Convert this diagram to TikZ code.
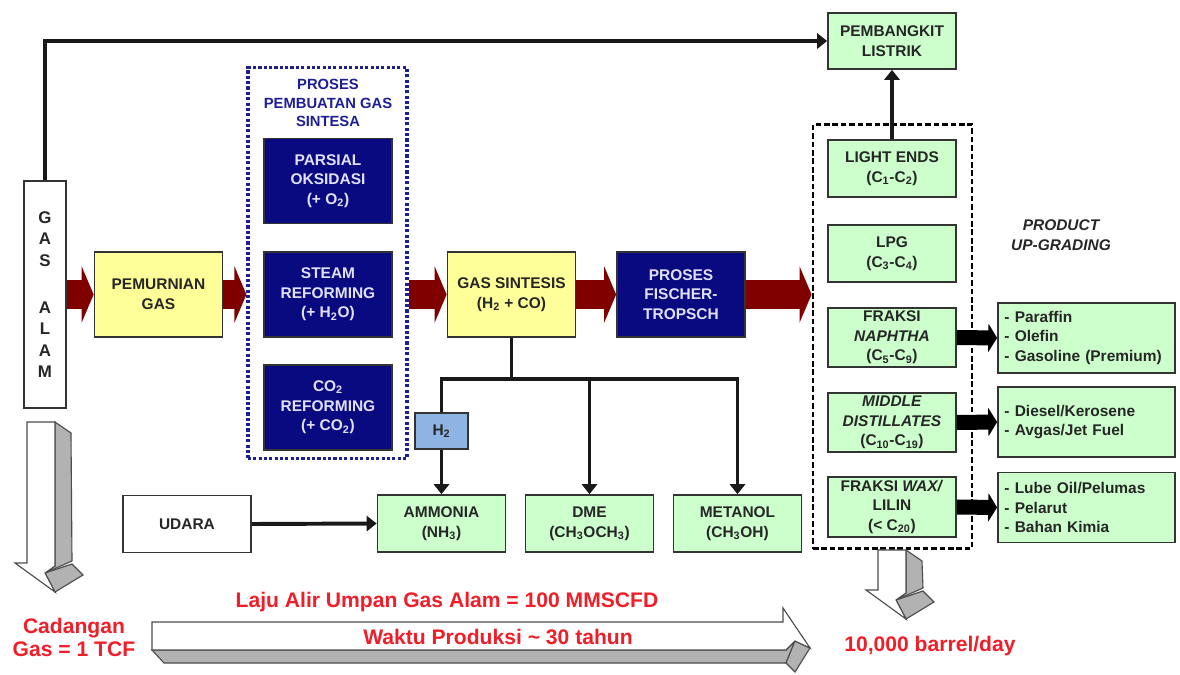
\documentclass[tikz,border=0pt]{standalone}
\usepackage{fontspec}
\setmainfont{Liberation Sans}
\usetikzlibrary{arrows.meta,positioning}

\definecolor{gelb}{RGB}{255,255,153}
\definecolor{dunkelblau}{RGB}{10,10,128}
\definecolor{hellgruen}{RGB}{204,255,204}
\definecolor{hellblau}{RGB}{141,180,226}
\definecolor{weinrot}{RGB}{128,0,0}
\definecolor{signalrot}{RGB}{240,30,40}
\definecolor{rahmenblau}{RGB}{30,30,150}

% 3D-Hohlpfeil nach unten: #1 x links, #2 y oben, #3 y Spitzenansatz
\newcommand{\hohlpfeilrunter}[3]{%
	\filldraw [ seite ] (#1+28,#2) -- (#1+44,#2+11) -- (#1+45,#3-2) -- (#1+18,#3+10) -- (#1+28,#3+3) -- cycle;
	\filldraw [ seite ] (#1+18,#3+10) -- (#1+45,#3+1) -- (#1+56,#3+12) -- (#1+28,#3+29) -- cycle;
	\filldraw [ front ] (#1,#2) -- (#1+28,#2) -- (#1+28,#3+3) -- (#1+18,#3+10) -- (#1+28,#3+29) -- (#1-12,#3) -- (#1,#3) -- cycle;
}

\begin{document}
\begin{tikzpicture}[
		x=0.025cm, y=-0.025cm,
		every node/.style={font=\fontsize{11pt}{14pt}\selectfont\bfseries, align=center, text=black!85},
		kasten/.style={draw=black!80, line width=1.2pt, inner sep=2pt},
		gelbkasten/.style={kasten, fill=gelb, minimum width=3.2cm, minimum height=2.125cm},
		blaukasten/.style={kasten, fill=dunkelblau, text={rgb,255:red,225;green,225;blue,255}, minimum width=3.2cm, minimum height=2.125cm},
		gruenkasten/.style={kasten, fill=hellgruen, minimum width=3.2cm, minimum height=1.425cm},
		listkasten/.style={kasten, fill=hellgruen, minimum width=4.425cm, minimum height=1.75cm, text width=4.1cm, inner sep=0.15cm, align=left},
		rottext/.style={font=\fontsize{15pt}{16.4pt}\selectfont\bfseries, text=signalrot},
		roterpfeil/.style={draw=weinrot, line width=0.7cm, -{Triangle[length=0.3cm, width=1.4cm]}},
		schwarzpfeil/.style={draw=black, line width=0.375cm, -{Triangle[length=0.22cm, width=0.7cm]}},
		duennlinie/.style={draw=black!90, line width=2.8pt},
		duennpfeil/.style={duennlinie, -{Triangle[length=0.25cm, width=0.38cm]}},
		seite/.style={fill=gray!60, draw=black!70, line width=0.8pt},
		front/.style={fill=white, draw=black!70, line width=0.8pt}
		]
		\useasboundingbox (0,0) rectangle (1180,675);
		
		% Rahmen
		\node [ draw=rahmenblau, line width=2.2pt, dash pattern=on 2.2pt off 1.6pt, minimum width=3.975cm, minimum height=9.75cm ] (synbox) at (327.5,263) {};
		\node [ draw=black, line width=2pt, dash pattern=on 4pt off 2pt, minimum width=3.975cm, minimum height=10.6cm ] (upbox) at (892.5,336.5) {};
		\node [ font=\fontsize{10.5pt}{13pt}\selectfont\bfseries, text=rahmenblau ] (syntitel) at (328,103) {PROSES\\PEMBUATAN GAS\\SINTESA};
		
		\node [ kasten, fill=white, minimum width=1.05cm, minimum height=5.675cm, font=\fontsize{12pt}{15.3pt}\selectfont\bfseries ] (gasalam) at (45,294.5) {G\\A\\S\\[18pt]A\\L\\A\\M};
		\node [ gelbkasten ] (pemurnian) at (158.5,294.5) {PEMURNIAN\\GAS};
		\node [ blaukasten ] (parsial) at (328,181) {PARSIAL\\OKSIDASI\\(+ O\textsubscript{2})};
		\node [ blaukasten ] (steam) at (328,294.5) {STEAM\\REFORMING\\(+ H\textsubscript{2}O)};
		\node [ blaukasten ] (coref) at (328,407.5) {CO\textsubscript{2}\\REFORMING\\(+ CO\textsubscript{2})};
		\node [ gelbkasten ] (gassintesis) at (511.5,294.5) {GAS SINTESIS\\(H\textsubscript{2} + CO)};
		\node [ blaukasten ] (ft) at (681,294.5) {PROSES\\FISCHER-\\TROPSCH};
		
		\node [ gruenkasten, minimum height=1.4cm ] (pembangkit) at (892,41) {PEMBANGKIT\\LISTRIK};
		\node [ gruenkasten ] (lightends) at (892,168.5) {LIGHT ENDS\\(C\textsubscript{1}-C\textsubscript{2})};
		\node [ gruenkasten ] (lpg) at (892,253.5) {LPG\\(C\textsubscript{3}-C\textsubscript{4})};
		\node [ gruenkasten ] (naphtha) at (892,337.5) {FRAKSI\\\textit{NAPHTHA}\\(C\textsubscript{5}-C\textsubscript{9})};
		\node [ gruenkasten ] (middle) at (892,422.5) {\textit{MIDDLE}\\\textit{DISTILLATES}\\(C\textsubscript{10}-C\textsubscript{19})};
		\node [ gruenkasten ] (wax) at (892,507) {FRAKSI \textit{WAX/}\\LILIN\\(< C\textsubscript{20})};
		\node [ font=\fontsize{11pt}{14pt}\selectfont\bfseries\itshape ] (upgrading) at (1061,235) {PRODUCT\\UP-GRADING};
		
		\node [ listkasten ] (listea) at (1086.5,338) {- Paraffin\\- Olefin\\- Gasoline (Premium)};
		\node [ listkasten ] (listeb) at (1086.5,422) {- Diesel/Kerosene\\- Avgas/Jet Fuel};
		\node [ listkasten ] (listec) at (1086.5,507.5) {- Lube Oil/Pelumas\\- Pelarut\\- Bahan Kimia};
		
		\node [ kasten, fill=hellblau, minimum width=1.325cm, minimum height=0.9cm ] (h2) at (441.5,431) {H\textsubscript{2}};
		\node [ kasten, fill=white, minimum width=3.2cm, minimum height=1.425cm ] (udara) at (187,524) {UDARA};
		\node [ gruenkasten ] (ammonia) at (441.5,523.5) {AMMONIA\\(NH\textsubscript{3})};
		\node [ gruenkasten ] (dme) at (589.5,523.5) {DME\\(CH\textsubscript{3}OCH\textsubscript{3})};
		\node [ gruenkasten ] (metanol) at (737.5,523.5) {METANOL\\(CH\textsubscript{3}OH)};
		
		% Hauptstrom
		\draw [ roterpfeil ] (gasalam.east) -- (pemurnian.west);
		\draw [ roterpfeil ] (pemurnian.east) -- (pemurnian.east -| synbox.west);
		\draw [ roterpfeil ] (synbox.east |- gassintesis.west) -- (gassintesis.west);
		\draw [ roterpfeil ] (gassintesis.east) -- (ft.west);
		\draw [ roterpfeil ] (ft.east) -- (ft.east -| upbox.west);
		
		\draw [ duennpfeil ] (gasalam.north) |- (pembangkit.west);
		\draw [ duennpfeil, line width=3.5pt ] (lightends.north) -- (pembangkit.south);
		\draw [ schwarzpfeil ] (naphtha.east) -- (listea.west);
		\draw [ schwarzpfeil ] (middle.east) -- (listeb.west);
		\draw [ schwarzpfeil ] (wax.east) -- (listec.west);
		
		\draw [ duennlinie ] (gassintesis.south) -- ++(0,41) coordinate (verteiler);
		\draw [ duennlinie ] (verteiler) -| (h2.north);
		\draw [ duennpfeil ] (h2.south) -- (ammonia.north);
		\draw [ duennpfeil ] (verteiler) -| (dme.north);
		\draw [ duennpfeil ] (verteiler) -| (metanol.north);
		\draw [ duennpfeil ] (udara.east) -- (ammonia.west);
		
		% 3D-Pfeile
		\hohlpfeilrunter{27}{422}{563}
		\hohlpfeilrunter{878}{550}{590}
		\filldraw [ seite ] (152,650) -- (164,663) -- (786,663) -- (795,641) -- (786,650) -- cycle;
		\filldraw [ seite ] (795,641) -- (786,663) -- (795,672) -- (810,648) -- cycle;
		\filldraw [ front ] (152,622) -- (783,622) -- (783,608) -- (810,648) -- (795,641) -- (786,650) -- (152,650) -- cycle;
		
		% Beschriftung in Rot
		\node [ rottext ] (cadangan) at (74,637) {Cadangan\\Gas = 1 TCF};
		\node [ rottext ] (laju) at (447,602) {Laju Alir Umpan Gas Alam = 100 MMSCFD};
		\node [ rottext ] (waktu) at (498,637) {Waktu Produksi \textasciitilde{} 30 tahun};
		\node [ rottext ] (barrel) at (930,646) {10,000 barrel/day};
		
	\end{tikzpicture}
\end{document}
